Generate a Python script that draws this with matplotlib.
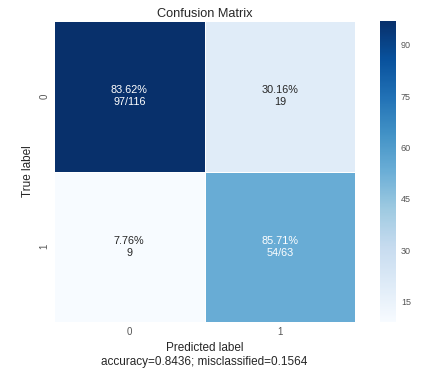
import matplotlib
matplotlib.use("Agg")
import matplotlib.pyplot as plt
import numpy as np
import seaborn as sns

sns.set_theme(style="white")
plt.rcParams['font.family'] = ['Liberation Sans', 'DejaVu Sans']

# Datos de la matriz
clases = ["0", "1"]
cm = np.array([[97, 19],
               [9, 54]])
etiquetas = [["83.62%\n97/116", "30.16%\n19"],
             ["7.76%\n9", "85.71%\n54/63"]]
accuracy = 0.8436
misclassified = 0.1564

fig = plt.figure(figsize=(4.21, 3.75), dpi=100)
ax = fig.add_axes([54/421, 1 - 322/375, 301/421, 301/375])
cax = fig.add_axes([380/421, 1 - 322/375, 16/421, 301/375])

sns.heatmap(cm, annot=np.array(etiquetas), fmt="", cmap="Blues", ax=ax, cbar_ax=cax,
            linewidths=0.5, linecolor="white", xticklabels=clases, yticklabels=clases,
            annot_kws={"fontsize": 7.8}, vmin=cm.min(), vmax=cm.max())

cax.set_yticks([15, 30, 45, 60, 75, 90])
cax.tick_params(labelsize=6.5, length=0, colors="#555555")
for s in cax.spines.values():
    s.set_visible(False)

ax.set_title("Confusion Matrix", fontsize=9.2, color="#262626", pad=3)
ax.set_ylabel("True label", fontsize=8.5, color="#262626")
ax.set_xlabel("Predicted label\naccuracy={:.4f}; misclassified={:.4f}".format(accuracy, misclassified),
              fontsize=8.5, color="#262626")
ax.tick_params(labelsize=7, colors="#555555", length=0)

fig.savefig("out.png", dpi=100)
